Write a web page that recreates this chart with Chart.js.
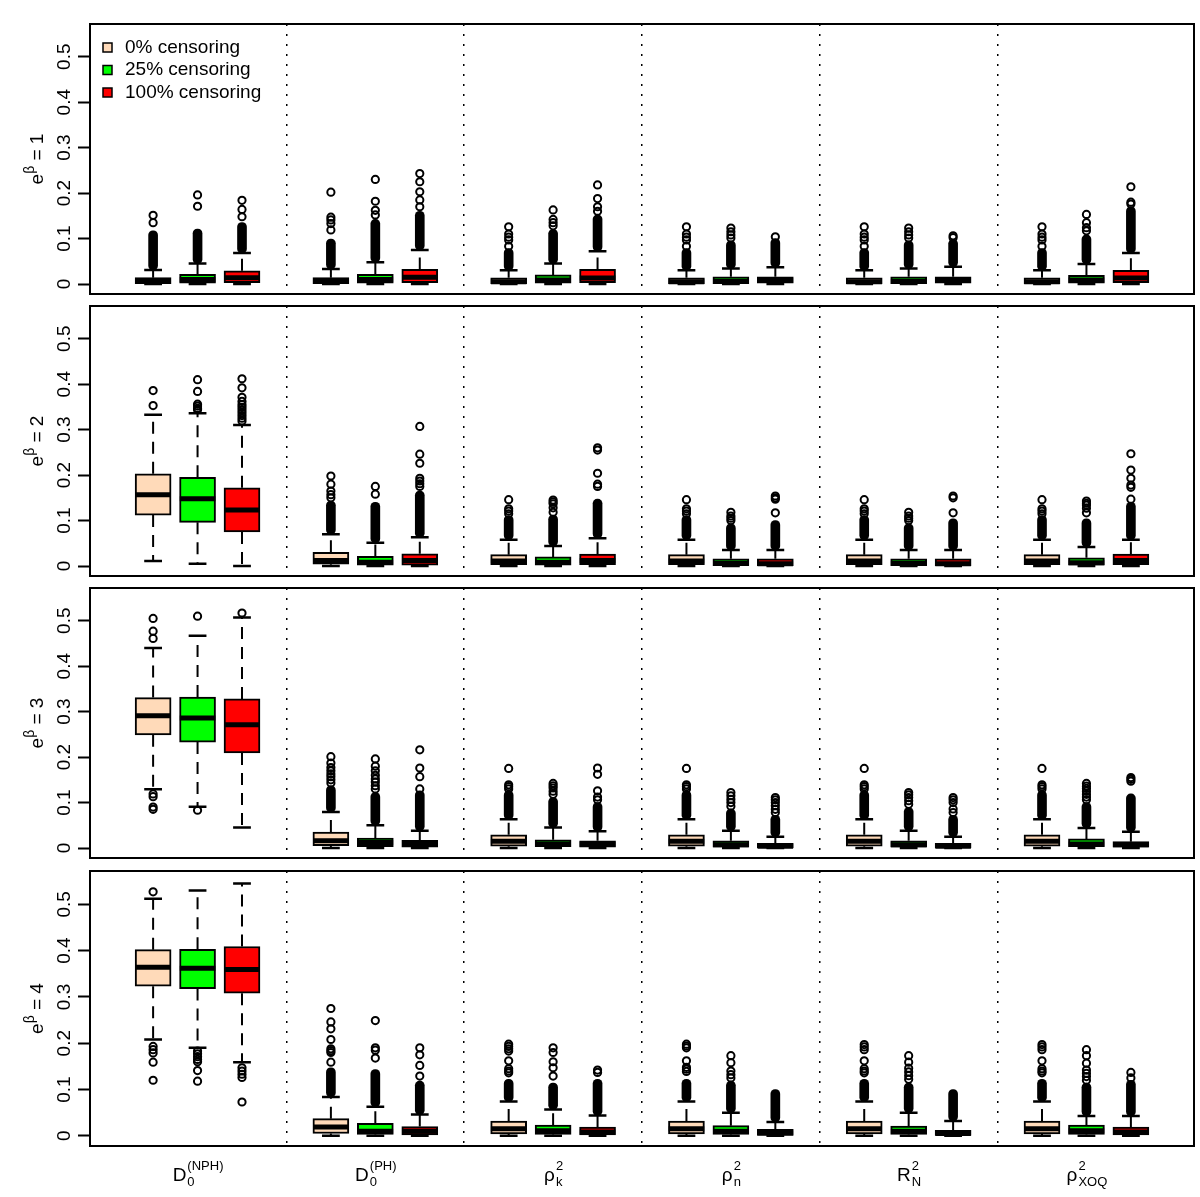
<!DOCTYPE html>
<html lang="en">
<head>
<meta charset="UTF-8">
<title>Explained variation by censoring level</title>
<script src="https://cdn.jsdelivr.net/npm/chart.js@4"></script>
<style>
  body { margin: 0; background: #fff; }
  #wrap { position: relative; width: 1200px; height: 1197px; }
  #wrap canvas { position: absolute; left: 0; }
</style>
</head>
<body>
<div id="wrap">
  <canvas id="p0" width="1200" height="282" style="top:18px"></canvas>
  <canvas id="p1" width="1200" height="282" style="top:300px"></canvas>
  <canvas id="p2" width="1200" height="282" style="top:582px"></canvas>
  <canvas id="p3" width="1200" height="332" style="top:865px"></canvas>
</div>
<script>
// e^beta of each panel (top to bottom)
var effects = [1, 2, 3, 4];
// the six measures: base symbol, subscript, superscript
var measures   = ['D', 'D', 'ρ', 'ρ', 'R', 'ρ'];
var measureSub = ['0', '0', 'k', 'n', 'N', 'XOQ'];
var measureSup = ['(NPH)', '(PH)', '2', '2', '2', '2'];
var censoring = ['0% censoring', '25% censoring', '100% censoring'];
var yTicks = [0, 0.1, 0.2, 0.3, 0.4, 0.5];
var dividers = [4, 8, 12, 16, 20];

// one row per panel, 18 boxes per row: measure by measure, 0% / 25% / 100% censoring
var whiskerLow = [
  [0, 0, 0, 0, 0, 0, 0, 0, 0, 0, 0, 0, 0, 0, 0, 0, 0, 0],
  [0.011, 0.005, 0.000, 0, 0, 0, 0, 0, 0, 0, 0, 0, 0, 0, 0, 0, 0, 0],
  [0.129, 0.091, 0.045, 0, 0, 0, 0, 0, 0, 0, 0, 0, 0, 0, 0, 0, 0, 0],
  [0.208, 0.190, 0.159, 0, 0, 0, 0, 0, 0, 0, 0, 0, 0, 0, 0, 0, 0, 0]
];
var lowerQuartile = [
  [0.001, 0.002, 0.003, 0.001, 0.002, 0.003, 0.001, 0.002, 0.003, 0.001, 0.001, 0.002, 0.001, 0.001, 0.002, 0.001, 0.002, 0.003],
  [0.112, 0.096, 0.075, 0.004, 0.002, 0.002, 0.003, 0.002, 0.003, 0.003, 0.001, 0.001, 0.003, 0.001, 0.001, 0.003, 0.002, 0.003],
  [0.249, 0.233, 0.209, 0.005, 0.003, 0.002, 0.004, 0.003, 0.002, 0.004, 0.002, 0.001, 0.004, 0.002, 0.001, 0.004, 0.003, 0.002],
  [0.323, 0.318, 0.308, 0.005, 0.003, 0.002, 0.004, 0.003, 0.002, 0.004, 0.003, 0.001, 0.004, 0.003, 0.001, 0.004, 0.003, 0.002]
];
var medians = [
  [0.006, 0.010, 0.014, 0.006, 0.010, 0.015, 0.005, 0.009, 0.013, 0.005, 0.006, 0.008, 0.005, 0.006, 0.008, 0.005, 0.009, 0.013],
  [0.157, 0.148, 0.123, 0.012, 0.008, 0.012, 0.011, 0.008, 0.012, 0.011, 0.006, 0.005, 0.011, 0.006, 0.005, 0.011, 0.007, 0.012],
  [0.291, 0.286, 0.271, 0.016, 0.012, 0.009, 0.015, 0.009, 0.008, 0.015, 0.007, 0.004, 0.015, 0.007, 0.004, 0.015, 0.009, 0.007],
  [0.364, 0.362, 0.359, 0.019, 0.010, 0.010, 0.015, 0.011, 0.008, 0.015, 0.010, 0.006, 0.015, 0.010, 0.005, 0.015, 0.011, 0.008]
];
var upperQuartile = [
  [0.014, 0.021, 0.029, 0.014, 0.021, 0.032, 0.0135, 0.020, 0.032, 0.0135, 0.016, 0.016, 0.0135, 0.016, 0.016, 0.0135, 0.019, 0.030],
  [0.203, 0.195, 0.172, 0.030, 0.021, 0.027, 0.025, 0.020, 0.026, 0.025, 0.016, 0.016, 0.025, 0.016, 0.016, 0.025, 0.018, 0.026],
  [0.331, 0.332, 0.328, 0.035, 0.022, 0.017, 0.029, 0.018, 0.016, 0.029, 0.016, 0.010, 0.029, 0.016, 0.010, 0.029, 0.020, 0.014],
  [0.402, 0.403, 0.409, 0.037, 0.027, 0.020, 0.032, 0.023, 0.019, 0.032, 0.022, 0.014, 0.032, 0.021, 0.012, 0.032, 0.023, 0.019]
];
var whiskerHigh = [
  [0.031, 0.045, 0.068, 0.033, 0.048, 0.075, 0.030, 0.045, 0.072, 0.030, 0.034, 0.037, 0.030, 0.034, 0.038, 0.030, 0.044, 0.068],
  [0.333, 0.336, 0.310, 0.070, 0.051, 0.063, 0.058, 0.044, 0.061, 0.058, 0.035, 0.035, 0.058, 0.035, 0.035, 0.058, 0.042, 0.058],
  [0.440, 0.467, 0.507, 0.079, 0.050, 0.038, 0.063, 0.045, 0.037, 0.063, 0.038, 0.025, 0.063, 0.038, 0.025, 0.063, 0.044, 0.036],
  [0.512, 0.530, 0.545, 0.084, 0.063, 0.046, 0.074, 0.057, 0.044, 0.074, 0.050, 0.030, 0.074, 0.050, 0.032, 0.074, 0.043, 0.043]
];
// top of the solid run of outliers sitting just above the upper whisker (null = none)
var outlierRunTop = [
  [0.117, 0.121, 0.135, 0.099, 0.142, 0.160, 0.078, 0.120, 0.152, 0.078, 0.095, 0.100, 0.078, 0.095, 0.098, 0.078, 0.108, 0.170],
  [null, null, null, 0.143, 0.140, 0.165, 0.111, 0.112, 0.147, 0.111, 0.093, 0.100, 0.111, 0.093, 0.104, 0.111, 0.104, 0.140],
  [null, null, null, 0.137, 0.122, 0.126, 0.126, 0.111, 0.100, 0.126, 0.086, 0.072, 0.126, 0.089, 0.072, 0.126, 0.100, 0.119],
  [null, null, null, 0.147, 0.143, 0.118, 0.122, 0.114, 0.122, 0.122, 0.118, 0.100, 0.122, 0.114, 0.100, 0.122, 0.114, 0.120]
];
// separate outlier circles
var outliers = [
  [[0.135, 0.151], [0.171, 0.196], [0.148, 0.164, 0.184],
   [0.119, 0.133, 0.141, 0.147, 0.202], [0.152, 0.162, 0.182, 0.230], [0.170, 0.185, 0.203, 0.225, 0.243],
   [0.083, 0.097, 0.103, 0.110, 0.126], [0.128, 0.135, 0.142, 0.163], [0.160, 0.170, 0.188, 0.218],
   [0.083, 0.097, 0.103, 0.110, 0.126], [0.101, 0.108, 0.115, 0.123], [0.104],
   [0.083, 0.097, 0.103, 0.110, 0.126], [0.101, 0.108, 0.115, 0.123], [0.102, 0.106],
   [0.083, 0.097, 0.103, 0.110, 0.126], [0.117, 0.124, 0.135, 0.153], [0.176, 0.180, 0.214]],
  [[0.353, 0.386], [0.344, 0.347, 0.352, 0.356, 0.384, 0.410], [0.319, 0.325, 0.331, 0.337, 0.343, 0.349, 0.355, 0.362, 0.371, 0.392, 0.412],
   [0.150, 0.157, 0.165, 0.180, 0.198], [0.158, 0.175], [0.175, 0.181, 0.187, 0.193, 0.226, 0.246, 0.307],
   [0.115, 0.121, 0.126, 0.146], [0.118, 0.128, 0.137, 0.141, 0.145], [0.175, 0.180, 0.204, 0.255, 0.260],
   [0.115, 0.121, 0.126, 0.146], [0.100, 0.105, 0.110, 0.118], [0.117, 0.147, 0.150, 0.154],
   [0.115, 0.121, 0.126, 0.146], [0.100, 0.105, 0.110, 0.118], [0.117, 0.150, 0.154],
   [0.115, 0.121, 0.126, 0.146], [0.117, 0.127, 0.134, 0.138, 0.143], [0.147, 0.173, 0.178, 0.193, 0.211, 0.247]],
  [[0.461, 0.477, 0.505, 0.119, 0.113, 0.090, 0.085], [0.510, 0.083], [0.517],
   [0.143, 0.150, 0.157, 0.163, 0.170, 0.177, 0.187, 0.201], [0.130, 0.137, 0.145, 0.152, 0.160, 0.170, 0.180, 0.196], [0.130, 0.157, 0.176, 0.216],
   [0.130, 0.135, 0.139, 0.175], [0.118, 0.125, 0.132, 0.137, 0.142], [0.106, 0.112, 0.126, 0.162, 0.176],
   [0.130, 0.135, 0.139, 0.175], [0.092, 0.100, 0.107, 0.115, 0.122], [0.078, 0.085, 0.093, 0.100, 0.106, 0.111],
   [0.130, 0.135, 0.139, 0.175], [0.096, 0.104, 0.111, 0.117, 0.122], [0.078, 0.086, 0.100, 0.106, 0.111],
   [0.130, 0.135, 0.139, 0.175], [0.106, 0.112, 0.118, 0.125, 0.131, 0.136, 0.142], [0.147, 0.151, 0.155]],
  [[0.527, 0.193, 0.186, 0.179, 0.159, 0.120], [0.183, 0.177, 0.171, 0.165, 0.160, 0.141, 0.118], [0.147, 0.140, 0.133, 0.126, 0.073],
   [0.159, 0.180, 0.184, 0.188, 0.208, 0.231, 0.246, 0.275], [0.168, 0.185, 0.190, 0.249], [0.129, 0.152, 0.175, 0.190],
   [0.136, 0.140, 0.145, 0.162, 0.183, 0.188, 0.193, 0.198], [0.129, 0.147, 0.160, 0.180, 0.190], [0.137, 0.142],
   [0.139, 0.144, 0.148, 0.162, 0.190, 0.194, 0.198], [0.125, 0.132, 0.140, 0.158, 0.173], [],
   [0.136, 0.140, 0.145, 0.162, 0.186, 0.192, 0.197], [0.122, 0.130, 0.138, 0.146, 0.159, 0.173], [],
   [0.136, 0.140, 0.145, 0.162, 0.186, 0.192, 0.197], [0.120, 0.128, 0.135, 0.142, 0.157, 0.173, 0.186], [0.125, 0.137]]
];

var boxColors = ['#FFDAB9', '#00FF00', '#FF0000'];
var FONT = '"Liberation Sans", Arial, sans-serif';

// box i sits at 1,2,3, 5,6,7, ... (one empty slot between measures)
function boxX(i) { return Math.floor(i / 3) * 4 + (i % 3) + 1; }

function drawMath(ctx, cx, y, base, sub, sup) {
  ctx.font = '19px ' + FONT;
  var wb = ctx.measureText(base).width;
  ctx.font = '13px ' + FONT;
  var ws = Math.max(ctx.measureText(sub).width, ctx.measureText(sup).width);
  var x0 = cx - (wb + ws) / 2;
  ctx.textAlign = 'left';
  ctx.textBaseline = 'alphabetic';
  ctx.font = '19px ' + FONT;
  ctx.fillText(base, x0, y);
  ctx.font = '13px ' + FONT;
  ctx.fillText(sub, x0 + wb + 1, y + 5);
  ctx.fillText(sup, x0 + wb + 1, y - 11);
}

function panelPlugin(p) {
  return {
    id: 'panelDecor' + p,
    afterDraw: function (chart) {
      var ctx = chart.ctx, a = chart.chartArea, ys = chart.scales.y, xs = chart.scales.x;
      ctx.save();
      // frame
      ctx.lineWidth = 2;
      ctx.strokeStyle = '#000';
      ctx.strokeRect(a.left, a.top, a.right - a.left, a.bottom - a.top);
      ctx.fillStyle = '#000';

      // tick labels, parallel to the axis
      ctx.font = '19px ' + FONT;
      ctx.textAlign = 'center';
      ctx.textBaseline = 'alphabetic';
      yTicks.forEach(function (v) {
        ctx.save();
        ctx.translate(70, ys.getPixelForValue(v));
        ctx.rotate(-Math.PI / 2);
        ctx.fillText(String(v), 0, 0);
        ctx.restore();
      });

      // axis title e^beta = k
      ctx.save();
      ctx.translate(43, (a.top + a.bottom) / 2);
      ctx.rotate(-Math.PI / 2);
      ctx.textAlign = 'left';
      ctx.font = '19px ' + FONT;
      var we = ctx.measureText('e').width;
      var rest = ' = ' + effects[p];
      var wr = ctx.measureText(rest).width;
      ctx.font = '14px ' + FONT;
      var wbeta = ctx.measureText('β').width;
      var x0 = -(we + wbeta + wr) / 2;
      ctx.font = '19px ' + FONT;
      ctx.fillText('e', x0, 0);
      ctx.font = '14px ' + FONT;
      ctx.fillText('β', x0 + we, -9);
      ctx.font = '19px ' + FONT;
      ctx.fillText(rest, x0 + we + wbeta, 0);
      ctx.restore();

      // legend in the first panel
      if (p === 0) {
        ctx.font = '19px ' + FONT;
        ctx.textAlign = 'left';
        ctx.textBaseline = 'middle';
        ctx.lineWidth = 1.5;
        censoring.forEach(function (lab, c) {
          var y = a.top + 23.5 + c * 22.5;
          ctx.fillStyle = boxColors[c];
          ctx.fillRect(a.left + 13, y - 4.5, 9, 9);
          ctx.strokeRect(a.left + 13, y - 4.5, 9, 9);
          ctx.fillStyle = '#000';
          ctx.fillText(lab, a.left + 35, y);
        });
      }

      // measure names under the last panel
      if (p === effects.length - 1) {
        ctx.fillStyle = '#000';
        measures.forEach(function (m, g) {
          drawMath(ctx, xs.getPixelForValue(g * 4 + 2), a.bottom + 35, m, measureSub[g], measureSup[g]);
        });
      }
      ctx.restore();
    }
  };
}

function makeChart(p) {
  var med = [], wh = [], caps = [], dense = [], outs = [];
  for (var i = 0; i < 18; i++) {
    var x = boxX(i);
    med.push({x: x - 0.4, y: medians[p][i]}, {x: x + 0.4, y: medians[p][i]}, {x: x, y: null});
    wh.push({x: x, y: upperQuartile[p][i]}, {x: x, y: whiskerHigh[p][i]}, {x: x, y: null},
            {x: x, y: lowerQuartile[p][i]}, {x: x, y: whiskerLow[p][i]}, {x: x, y: null});
    caps.push({x: x - 0.2, y: whiskerHigh[p][i]}, {x: x + 0.2, y: whiskerHigh[p][i]}, {x: x, y: null},
              {x: x - 0.2, y: whiskerLow[p][i]}, {x: x + 0.2, y: whiskerLow[p][i]}, {x: x, y: null});
    if (outlierRunTop[p][i] !== null) {
      dense.push({x: x, y: [whiskerHigh[p][i], outlierRunTop[p][i]]});
    }
    outliers[p][i].forEach(function (v) { outs.push({x: x, y: v}); });
  }

  var datasets = [
    { type: 'line', data: med, borderColor: '#000', borderWidth: 5, borderCapStyle: 'butt',
      pointRadius: 0, spanGaps: false, order: 0 }
  ];
  censoring.forEach(function (lab, c) {
    var pts = [];
    for (var g = 0; g < measures.length; g++) {
      var i = g * 3 + c;
      pts.push({x: boxX(i), y: [lowerQuartile[p][i], upperQuartile[p][i]]});
    }
    datasets.push({ type: 'bar', label: lab, data: pts, backgroundColor: boxColors[c], borderColor: '#000',
      borderWidth: 2, borderSkipped: false, barThickness: 36, grouped: false, order: 1 });
  });
  datasets.push(
    { type: 'bar', data: dense, backgroundColor: '#000', borderColor: '#000', borderWidth: 0,
      borderRadius: 4.5, borderSkipped: false, barThickness: 9, grouped: false, order: 2 },
    { type: 'scatter', data: outs, pointStyle: 'circle', pointRadius: 3.6, pointBorderWidth: 2,
      pointBorderColor: '#000', pointBackgroundColor: 'rgba(0,0,0,0)', borderColor: '#000',
      backgroundColor: 'rgba(0,0,0,0)', order: 3 },
    { type: 'line', data: caps, borderColor: '#000', borderWidth: 2.5, pointRadius: 0, spanGaps: false, order: 4 },
    { type: 'line', data: wh, borderColor: '#000', borderWidth: 2, borderDash: [12, 8],
      pointRadius: 0, spanGaps: false, order: 5 }
  );

  var last = p === effects.length - 1;
  return new Chart(document.getElementById('p' + p), {
    type: 'bar',
    data: { datasets: datasets },
    options: {
      responsive: false,
      animation: false,
      events: [],
      layout: { padding: { top: 6, right: 5, bottom: last ? 51 : 1, left: 0 } },
      plugins: { legend: { display: false }, tooltip: { enabled: false } },
      scales: {
        x: {
          type: 'linear', min: -0.42, max: 24.42, offset: false,
          afterBuildTicks: function (s) { s.ticks = dividers.map(function (v) { return {value: v}; }); },
          afterFit: function (s) { s.height = 0; },
          ticks: { display: false },
          grid: { offset: false, drawOnChartArea: true, drawTicks: false, color: '#000', lineWidth: 1.5 },
          border: { display: false, dash: [2, 8] }
        },
        y: {
          type: 'linear', min: -0.022, max: 0.572,
          afterBuildTicks: function (s) { s.ticks = yTicks.map(function (v) { return {value: v}; }); },
          afterFit: function (s) { s.width = 90; },
          ticks: { display: false },
          grid: { drawOnChartArea: false, drawTicks: true, tickLength: 12, tickColor: '#000', tickWidth: 2 },
          border: { display: false }
        }
      }
    },
    plugins: [panelPlugin(p)]
  });
}

effects.forEach(function (e, p) { makeChart(p); });
</script>
</body>
</html>
